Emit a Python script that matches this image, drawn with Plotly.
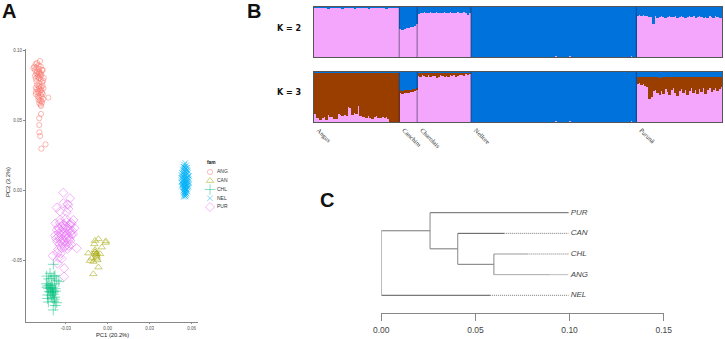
import plotly.graph_objects as go

W, H = 725, 339

# ---------- Panel A: PCA ----------
families = ["ANG", "CAN", "CHL", "NEL", "PUR"]
fam_colors = ["#F8766D", "#A3A500", "#00BF7D", "#00B0F6", "#E76BF3"]
fam_symbols = ["circle-open", "triangle-up-open", "cross-thin-open", "x-thin-open", "diamond-open"]
fam_sizes = [5.2, 6.5, 7.5, 5.5, 7]
pc_xticks = [-0.03, 0.0, 0.03, 0.06]
pc_xlabels = ["-0.03", "0.00", "0.03", "0.06"]
pc_yticks = [-0.05, 0.0, 0.05, 0.10]
pc_ylabels = ["-0.05", "0.00", "0.05", "0.10"]

ang_pc1 = [-.0485,-.0505,-.0515,-.0495,-.0526,-.0532,-.0510,-.0492,-.0480,-.0470,-.0520,-.0505,-.0490,-.0478,-.0465,
           -.0512,-.0500,-.0488,-.0475,-.0520,-.0500,-.0482,-.0458,-.0515,-.0495,-.0480,-.0510,-.0490,-.0470,-.0462,
           -.0505,-.0492,-.0478,-.0466,-.0515,-.0505,-.0490,-.0475,-.0460,-.0512,-.0498,-.0482,-.0470,-.0425,-.0515,
           -.0495,-.0480,-.0465,-.0500,-.0490,-.0472,-.0462,-.0495,-.0485,-.0475,-.0490,-.0480,-.0470,-.0478,-.0490,
           -.0478,-.0490,-.0489,-.0484,-.0445,-.0475]
ang_pc2 = [.0926,.0912,.0905,.0895,.0885,.0875,.0880,.0870,.0885,.0862,.0862,.0850,.0845,.0840,.0862,
           .0838,.0830,.0838,.0825,.0820,.0815,.0822,.0805,.0800,.0805,.0795,.0780,.0770,.0775,.0785,
           .0755,.0745,.0740,.0750,.0735,.0725,.0730,.0720,.0732,.0705,.0710,.0715,.0700,.0665,.0690,
           .0695,.0685,.0690,.0672,.0665,.0672,.0655,.0650,.0645,.0640,.0625,.0615,.0630,.0605,.0469,
           .0548,.0517,.0417,.0390,.0331,.0300]

can_pc1 = [-.0067,-.0091,-.0014,-.0043,-.0139,-.0091,-.0079,-.0055,-.0127,-.0103,-.0079,-.0067,-.0103,-.0084,-.0091,-.0115,-.0074,-.0096,-.0014,-.0084,-.0079,-.0090]
can_pc2 = [-.0345,-.0357,-.0360,-.0404,-.0447,-.0423,-.0447,-.0452,-.0500,-.0507,-.0483,-.0547,-.0595,-.0461,-.0436,-.0483,-.0495,-.0381,-.0371,-.0452,-.0470,-.0440]

chl_pc1 = [-.0389,-.0413,-.0437,-.0385,-.0378,-.0400,-.0365,-.0350,-.0425,-.0440,-.0430,-.0415,-.0405,-.0395,-.0380,
           -.0437,-.0425,-.0410,-.0400,-.0390,-.0375,-.0420,-.0410,-.0395,-.0385,-.0372,-.0430,-.0405,-.0388,-.0378,
           -.0432,-.0398,-.0383,-.0425,-.0385,-.0365,-.0375,-.0390]
chl_pc2 = [-.0526,-.0590,-.0610,-.0612,-.0605,-.0625,-.0640,-.0650,-.0630,-.0665,-.0680,-.0672,-.0678,-.0690,-.0665,
           -.0690,-.0700,-.0695,-.0705,-.0715,-.0700,-.0720,-.0725,-.0730,-.0722,-.0718,-.0745,-.0750,-.0740,-.0760,
           -.0770,-.0765,-.0775,-.0795,-.0790,-.0800,-.0820,-.0852]

nel_pc1 = [.0555,.0548,.0562,.0540,.0570,.0552,.0560,.0545,.0535,.0566,.0575,.0550,.0558,.0542,.0530,.0568,.0553,.0547,.0563,.0538,
           .0578,.0556,.0544,.0571,.0532,.0559,.0549,.0565,.0541,.0574,.0554,.0546,.0561,.0536,.0569,.0551,.0557,.0543,.0572,.0533,
           .0555,.0547,.0564,.0539,.0567,.0552,.0560,.0545,.0537,.0573,.0550,.0558,.0542,.0566,.0553,.0548,.0562,.0540,.0570,.0556,
           .0544,.0559,.0549,.0565,.0554,.0546,.0561,.0551,.0557,.0543,
           .0525,.0582,.0528,.0580,.0534,.0576,.0527,.0583,.0536,.0577,.0530,.0579,.0541,.0574,.0548,.0563,.0552,.0558,.0545,.0567]
nel_pc2 = [.0198,.0185,.0180,.0172,.0165,.0168,.0160,.0155,.0150,.0148,.0140,.0142,.0136,.0130,.0128,.0122,.0120,.0115,.0112,.0108,
           .0105,.0102,.0098,.0095,.0092,.0090,.0086,.0084,.0080,.0078,.0075,.0072,.0070,.0066,.0064,.0060,.0058,.0055,.0052,.0050,
           .0046,.0044,.0040,.0038,.0035,.0032,.0030,.0026,.0024,.0020,.0018,.0015,.0012,.0010,.0006,.0004,.0000,-.0002,-.0006,-.0008,
           -.0012,-.0015,-.0018,-.0022,-.0026,-.0030,-.0034,-.0038,-.0042,-.0045,
           .0110,.0105,.0090,.0085,.0070,.0065,.0060,.0052,.0045,.0040,.0035,.0028,.0118,.0125,.0022,.0008,-.0010,.0158,.0170,.0145]

pur_pc1 = [-.0318,-.0270,-.0318,-.0290,-.0282,-.0365,-.0282,-.0342,-.0294,-.0342,-.0300,-.0246,-.0375,-.0342,-.0318,
           -.0294,-.0270,-.0258,-.0355,-.0330,-.0305,-.0285,-.0265,-.0238,-.0365,-.0345,-.0320,-.0298,-.0275,-.0255,
           -.0350,-.0335,-.0312,-.0290,-.0268,-.0248,-.0378,-.0352,-.0328,-.0305,-.0280,-.0260,-.0370,-.0345,-.0322,
           -.0298,-.0272,-.0362,-.0338,-.0315,-.0292,-.0268,-.0222,-.0345,-.0325,-.0300,-.0280,-.0262,-.0355,-.0330,
           -.0310,-.0288,-.0394,-.0362,-.0338,-.0350,-.0330,-.0360,-.0312,-.0312]
pur_pc2 = [-.0014,-.0054,-.0090,-.0097,-.0100,-.0121,-.0130,-.0148,-.0155,-.0209,-.0200,-.0209,-.0233,-.0230,-.0240,
           -.0225,-.0238,-.0232,-.0262,-.0255,-.0250,-.0258,-.0245,-.0268,-.0280,-.0275,-.0272,-.0268,-.0280,-.0285,
           -.0302,-.0295,-.0298,-.0305,-.0300,-.0310,-.0320,-.0325,-.0318,-.0322,-.0330,-.0315,-.0342,-.0340,-.0345,
           -.0338,-.0345,-.0365,-.0360,-.0362,-.0370,-.0358,-.0411,-.0385,-.0380,-.0392,-.0395,-.0385,-.0420,-.0410,
           -.0405,-.0415,-.0465,-.0445,-.0450,-.0480,-.0485,-.0520,-.0554,-.0614]

pca_x = [ang_pc1, can_pc1, chl_pc1, nel_pc1, pur_pc1]
pca_y = [ang_pc2, can_pc2, chl_pc2, nel_pc2, pur_pc2]

# ---------- Panel B: admixture proportions ----------
breeds = ["Angus", "Canchim", "Charolais", "Nellore", "Purunã"]

k2_pink_angus = [.99,.99,.98,.99,.99,.98,.99,.97,.98,.99,.99,.98,.99,.98,.97,.99,.98,.99,.99,.98,.97,.99,.98,.99,.98,.99,.99,.97,.98,.99,.98,.99,.99,.98,.98,.99,.97,.99,.98,.99,.99,.98,.99]
k2_pink_canchim = [.56,.55,.57,.58,.59,.60,.61,.63,.66]
k2_pink_charolais = [.87,.89,.88,.90,.88,.89,.90,.89,.88,.90,.89,.88,.89,.90,.88,.89,.90,.89,.88,.89,.90,.88,.89,.90,.88,.85,.89]
k2_pink_nellore = [0,0,0,0,0,0,0,0,0,0,0,0,0,0,0,0,0,0,0,.01,0,0,0,0,0,0,0,0,0,0,0,0,0,0,0,0,0,0,0,0,0,0,
                   .015,.01,.01,.01,0,.01,.005,.02,.01,.005,.01,.005,0,.01,.005,0,.005,.005,0,0,0,0,0,0,0,0,0,0,0,0,0,0,0,0,0,0,0,.01,.02,0,0]
k2_pink_puruna = [.83,.85,.83,.84,.82,.83,.81,.80,.67,.82,.79,.81,.82,.80,.79,.81,.83,.80,.80,.82,.79,.81,.83,.80,.79,.81,.82,.80,.82,.79,.80,.82,.81,.79,.80,.79,.82,.81,.79,.82,.80,.79,.78]

k3_pink_angus = [.17,.08,.08,.05,.09,.10,.05,.15,.10,.11,.07,.06,.16,.15,.13,.14,.12,.30,.28,.15,.18,.16,.32,.12,.10,.10,.08,.12,.09,.06,.11,.13,.09,.08,.10,.08,.10,.06,0,0,0,0,0]
k3_brown_angus = [.825,.915,.915,.945,.905,.895,.945,.845,.895,.885,.925,.935,.835,.845,.865,.855,.875,.695,.715,.845,.815,.835,.675,.875,.895,.895,.915,.875,.905,.935,.885,.865,.905,.915,.895,.915,.895,.935,.99,.995,.995,.99,.995]
k3_pink_canchim = [.58,.56,.58,.58,.59,.60,.60,.62,.65]
k3_brown_canchim = [.06,.07,.06,.07,.06,.05,.06,.05,.03]
k3_pink_charolais = [.93,.91,.95,.92,.91,.94,.90,.93,.92,.88,.91,.94,.92,.90,.93,.91,.94,.92,.95,.91,.93,.95,.94,.92,.96,.95,.97]
k3_brown_charolais = [.05,.07,.03,.06,.07,.04,.08,.05,.06,.10,.07,.04,.06,.08,.05,.07,.04,.06,.03,.07,.05,.03,.04,.06,.02,.03,.01]
k3_pink_nellore = [0,0,0,0,0,0,0,0,0,0,0,0,0,0,0,0,0,0,0,.01,0,0,0,0,0,0,0,0,0,0,0,0,0,0,0,0,0,0,0,0,0,0,
                   .015,.01,.01,.01,0,.01,.005,.02,.01,.005,.01,.005,0,.01,.005,0,.005,.005,0,0,0,0,0,0,0,0,0,0,0,0,0,0,0,0,0,0,0,.01,.02,0,0]
k3_brown_nellore = [0,0,0,0,0,0,0,0,0,0,0,0,0,0,0,0,0,0,0,0,0,0,0,0,0,0,0,0,0,0,0,0,0,0,0,0,0,0,0,0,0,0,
                    0,0,0,0,0,0,0,0,0,0,0,0,0,0,0,0,0,0,0,0,0,0,0,0,0,0,0,0,0,0,0,0,0,0,0,0,0,0,0,0,0]
k3_pink_puruna = [.77,.79,.75,.77,.73,.70,.47,.50,.62,.65,.59,.55,.63,.57,.67,.61,.55,.64,.69,.59,.53,.63,.67,.58,.65,.55,.63,.68,.59,.64,.57,.67,.61,.69,.57,.64,.68,.61,.65,.69,.63,.67,.71]
k3_brown_puruna = [.14,.12,.16,.14,.18,.20,.44,.41,.28,.25,.31,.34,.27,.34,.23,.30,.35,.27,.21,.31,.38,.28,.23,.32,.25,.35,.28,.22,.32,.26,.33,.23,.29,.21,.34,.26,.22,.29,.25,.21,.27,.24,.19]

group_sizes = [len(k2_pink_angus), len(k2_pink_canchim), len(k2_pink_charolais), len(k2_pink_nellore), len(k2_pink_puruna)]
k2_pink = k2_pink_angus + k2_pink_canchim + k2_pink_charolais + k2_pink_nellore + k2_pink_puruna
k3_pink = k3_pink_angus + k3_pink_canchim + k3_pink_charolais + k3_pink_nellore + k3_pink_puruna
k3_brown = k3_brown_angus + k3_brown_canchim + k3_brown_charolais + k3_brown_nellore + k3_brown_puruna
k2_blue = [1 - p for p in k2_pink]
k3_blue = [1 - p - b for p, b in zip(k3_pink, k3_brown)]

# ---------- Panel C: tree ----------
tips = ["PUR", "CAN", "CHL", "ANG", "NEL"]
tip_rank = [5, 4, 3, 2, 1]
tip_solid_end = [0.0995, 0.0653, 0.0776, 0.0888, 0.0578]
tip_parent_x = [0.0259, 0.0406, 0.0598, 0.0598, 0.0]
tip_branch_color = ["#666666", "#555555", "#999999", "#aaaaaa", "#555555"]
tip_end = 0.0995
tip_label_x = 0.1006
node_x = [0.0, 0.0259, 0.0406, 0.0598]
node_child_low = [1, 3.25, 2.5, 2]
node_child_high = [4.125, 5, 4, 3]
inner_x0 = [0.0, 0.0259, 0.0406]
inner_x1 = [0.0259, 0.0406, 0.0598]
inner_rank = [4.125, 3.25, 2.5]
tree_ticks = [0.0, 0.05, 0.10, 0.15]
tree_labels = ["0.00", "0.05", "0.10", "0.15"]


def dx(a, b):
    return [a / W, b / W]


def dy(top, bottom):
    return [1 - bottom / H, 1 - top / H]


fig = go.Figure()

for i, fam in enumerate(families):
    fig.add_trace(go.Scatter(
        x=pca_x[i], y=pca_y[i], mode="markers", xaxis="x", yaxis="y", showlegend=False, name=fam,
        marker=dict(symbol=fam_symbols[i], size=fam_sizes[i], color=fam_colors[i], opacity=0.75,
                    line=dict(width=0.7, color=fam_colors[i]))))
    fig.add_trace(go.Scatter(
        x=[5], y=[i], mode="markers", xaxis="x5", yaxis="y5", showlegend=False, name=fam, cliponaxis=False,
        marker=dict(symbol=fam_symbols[i], size=fam_sizes[i], color=fam_colors[i], opacity=0.8,
                    line=dict(width=0.6, color=fam_colors[i]))))
    fig.add_trace(go.Scatter(
        x=[12], y=[i], text=[fam], mode="text", textposition="middle right",
        xaxis="x5", yaxis="y5", showlegend=False, name=fam, cliponaxis=False,
        textfont=dict(size=5, family="Liberation Sans", color="#333333")))

PINK, BLUE, BROWN = "#F3A6FB", "#0072DC", "#9A3E00"
idx = list(range(len(k2_pink)))
for vals, col in [(k2_pink, PINK), (k2_blue, BLUE)]:
    fig.add_trace(go.Bar(x=idx, y=vals, width=1, xaxis="x2", yaxis="y2", showlegend=False,
                         marker=dict(color=col, line=dict(width=0))))
for vals, col in [(k3_pink, PINK), (k3_brown, BROWN), (k3_blue, BLUE)]:
    fig.add_trace(go.Bar(x=idx, y=vals, width=1, xaxis="x3", yaxis="y3", showlegend=False,
                         marker=dict(color=col, line=dict(width=0))))

# tree: tip branches and node connectors
for i, t in enumerate(tips):
    fig.add_trace(go.Scatter(x=[tip_parent_x[i], tip_solid_end[i]], y=[tip_rank[i]] * 2, mode="lines",
                             xaxis="x4", yaxis="y4", showlegend=False,
                             line=dict(color=tip_branch_color[i], width=1)))
    fig.add_trace(go.Scatter(x=[tip_solid_end[i], tip_end], y=[tip_rank[i]] * 2, mode="lines",
                             xaxis="x4", yaxis="y4", showlegend=False,
                             line=dict(color="#777777", width=1, dash="1px,1px")))
    fig.add_trace(go.Scatter(x=[tip_label_x], y=[tip_rank[i]], text=[t], mode="text", textposition="middle right",
                             xaxis="x4", yaxis="y4", showlegend=False, cliponaxis=False,
                             textfont=dict(size=8, family="Liberation Sans", color="#444444", style="italic")))
for x0, x1, yy in zip(inner_x0, inner_x1, inner_rank):
    fig.add_trace(go.Scatter(x=[x0, x1], y=[yy, yy], mode="lines", xaxis="x4", yaxis="y4", showlegend=False,
                             line=dict(color="#777777", width=1)))
for xn, lo, hi in zip(node_x, node_child_low, node_child_high):
    fig.add_trace(go.Scatter(x=[xn, xn], y=[lo, hi], mode="lines", xaxis="x4", yaxis="y4", showlegend=False,
                             line=dict(color="#888888", width=1)))

# separators between breeds in panel B
shapes = []
start = 0
label_pos = []
for n in group_sizes:
    label_pos.append(start + 2)
    start += n
    if start < sum(group_sizes):
        for xr, yr in (("x2", "y2"), ("x3", "y3")):
            shapes.append(dict(type="line", xref=xr, yref=yr + " domain",
                               x0=start - 0.5, x1=start - 0.5, y0=0, y1=1,
                               line=dict(color="rgba(30,30,70,0.55)", width=1)))

n_all = len(k2_pink)
grey = "#888888"
tickf = dict(size=4.5, family="Liberation Sans", color="#555555")


def struct_y(dom, anchor):
    return dict(domain=dom, range=[0, 1], anchor=anchor, showticklabels=False, ticks="", showgrid=False,
                zeroline=False, showline=True, mirror=True, linecolor="#555555", linewidth=1, automargin=False)


notes = [("A", 0, 10.5, 20, "Liberation Sans"), ("B", 244.5, 10.5, 20, "Liberation Sans"),
         ("C", 317.5, 200, 20, "Liberation Sans"), ("K = 2", 274.5, 28, 8, "DejaVu Sans"),
         ("K = 3", 274.5, 92.5, 8, "DejaVu Sans"), ("fam", 205.5, 162, 4.8, "Liberation Sans")]
annotations = [
    dict(text="<b>%s</b>" % t, x=px / W, y=1 - py / H, xref="paper", yref="paper", showarrow=False,
         font=dict(size=fs, family=ff, color="#111111"), xanchor="left", yanchor="middle")
    for t, px, py, fs, ff in notes
]
annotations += [
    dict(text="PC1 (20.2%)", x=112 / W, y=1 - 334.5 / H, xref="paper", yref="paper", showarrow=False,
         font=dict(size=5.8, family="Liberation Sans", color="#222222"), xanchor="center", yanchor="middle"),
    dict(text="PC2 (3.2%)", x=8 / W, y=1 - 182 / H, xref="paper", yref="paper", showarrow=False, textangle=-90,
         font=dict(size=5.8, family="Liberation Sans", color="#222222"), xanchor="center", yanchor="middle"),
]

layout = dict(
    width=W, height=H, autosize=False, margin=dict(l=0, r=0, t=0, b=0, pad=0),
    paper_bgcolor="white", plot_bgcolor="white", barmode="stack", bargap=0, showlegend=False,
    shapes=shapes, annotations=annotations,
    xaxis=dict(domain=dx(26, 198), range=[-0.0585, 0.0646], anchor="y", tickvals=pc_xticks, ticktext=pc_xlabels,
               tickfont=tickf, ticks="outside", ticklen=1, tickwidth=0.6, tickcolor=grey, showgrid=False, zeroline=False,
               showline=True, linecolor=grey, linewidth=1.3, automargin=False),
    yaxis=dict(domain=dy(49, 322), range=[-0.0938, 0.1012], anchor="x", tickvals=pc_yticks, ticktext=pc_ylabels,
               tickfont=tickf, ticks="outside", ticklen=2, tickwidth=0.6, tickcolor=grey, showgrid=False, zeroline=False,
               showline=True, linecolor=grey, linewidth=1.3, automargin=False),
    xaxis2=dict(domain=dx(313.5, 722), range=[-0.5, n_all - 0.5], anchor="y2", showticklabels=False, ticks="",
                showgrid=False, zeroline=False, showline=True, mirror=True, linecolor="#555555", linewidth=1, automargin=False),
    yaxis2=struct_y(dy(7, 57), "x2"),
    xaxis3=dict(domain=dx(313.5, 722), range=[-0.5, n_all - 0.5], anchor="y3", tickvals=label_pos, ticktext=breeds,
                tickangle=45, ticks="", tickfont=dict(size=6.5, family="Liberation Serif", color="#333333"), automargin=False,
                ticklabelstandoff=1,
                showgrid=False, zeroline=False, showline=True, mirror=True, linecolor="#555555", linewidth=1),
    yaxis3=struct_y(dy(72, 122), "x3"),
    xaxis4=dict(domain=dx(381.3, 663.7), range=[0, 0.15], anchor="y4", tickvals=tree_ticks, ticktext=tree_labels,
                ticks="outside", ticklen=6.5, tickwidth=1, tickcolor=grey, showline=True, linecolor=grey, linewidth=1,
                ticklabelstandoff=2,
                showgrid=False, zeroline=False, automargin=False, tickfont=dict(size=8.5, family="Liberation Sans", color="#444444")),
    yaxis4=dict(domain=dy(205, 313.3), range=[0.128, 5.373], anchor="x4", visible=False, automargin=False),
    xaxis5=dict(domain=dx(205, 240), range=[0, 35], anchor="y5", visible=False, automargin=False),
    yaxis5=dict(domain=dy(160, 215), range=[4.91, -1.37], anchor="x5", visible=False, automargin=False),
)
fig.update_layout(**layout)
fig.write_html("out.html", config={"displayModeBar": False}, post_script="document.body.style.margin='0';")
